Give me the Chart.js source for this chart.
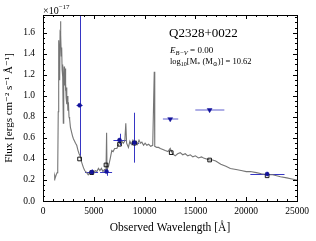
<!DOCTYPE html>
<html>
<head>
<meta charset="utf-8">
<script src="https://cdn.jsdelivr.net/npm/chart.js@4"></script>
<style>
  body { margin: 0; background: #fff; }
  canvas { display: block; }
</style>
</head>
<body>
<canvas id="grafico" width="316" height="241"></canvas>
<script>
// Espectro modelo (flujo en unidades de 1e-17)
const specWave = [1100, 1150, 1200, 1300, 1400, 1450, 1500, 1530, 1560, 1600, 1640, 1680, 1720, 1760, 1800, 1840, 1880, 1920, 1960, 2000,
  2040, 2080, 2120, 2170, 2210, 2240, 2280, 2320, 2360, 2400, 2450, 2500, 2560, 2620, 2700, 2800, 2900, 3000, 3100, 3200,
  3320, 3450, 3550, 3650, 3800, 3970, 4100, 4300, 4450, 4600, 4750, 4900, 5050, 5130, 5300, 5460, 5600, 5750, 5900, 6050,
  6200, 6260, 6300, 6450, 6610, 6770, 6900, 7050, 7270, 7450, 7600, 7760, 7900, 8050, 8150, 8230, 8410, 8550, 8700, 8850,
  9000, 9150, 9300, 9450, 9600, 9730, 9900, 10050, 10220, 10400, 10600, 10800, 10950, 11000, 11200, 11370, 11550, 11800, 12030, 12300,
  12520, 12750, 13010, 13250, 13510, 13750, 14000, 14250, 14500, 14750, 15000, 15300, 15600, 15800, 16100, 16400, 16700, 17000, 17500, 18000,
  18440, 19000, 19500, 20000, 20400, 21000, 21500, 22090, 22600, 23000, 23370, 24000, 24500, 25000];
const specFlux = [0.20, 0.24, 0.22, 0.25, 0.27, 0.30, 0.85, 1.50, 1.53, 1.40, 1.15, 1.60, 1.71, 1.58, 1.38, 1.46, 1.25, 1.30, 1.18, 0.74,
  1.20, 1.28, 1.10, 1.26, 1.05, 1.12, 0.98, 1.08, 0.92, 1.00, 0.86, 0.94, 0.80, 0.78, 0.70, 0.66, 0.62, 0.59, 0.57, 0.55,
  0.53, 0.48, 0.45, 0.43, 0.37, 0.32, 0.29, 0.27, 0.25, 0.27, 0.26, 0.28, 0.27, 0.29, 0.28, 0.31, 0.29, 0.31, 0.28, 0.30,
  0.29, 0.65, 0.30, 0.33, 0.40, 0.48, 0.47, 0.50, 0.50, 0.54, 0.56, 0.57, 0.55, 0.57, 0.74, 0.55, 0.51, 0.57, 0.54, 0.58,
  0.55, 0.57, 0.54, 0.58, 0.55, 0.56, 0.53, 0.55, 0.53, 0.54, 0.52, 0.53, 1.23, 0.52, 0.51, 0.51, 0.50, 0.49, 0.48, 0.47,
  0.50, 0.45, 0.43, 0.45, 0.46, 0.44, 0.45, 0.43, 0.44, 0.42, 0.43, 0.41, 0.42, 0.41, 0.40, 0.39, 0.39, 0.38, 0.35, 0.33,
  0.31, 0.30, 0.29, 0.28, 0.28, 0.27, 0.26, 0.25, 0.25, 0.24, 0.23, 0.22, 0.21, 0.20];

// Fotometría observada con errores
const photWave = [3600, 4800, 6250, 7530, 9000, 22060];
const photFlux = [0.91, 0.275, 0.28, 0.58, 0.555, 0.257];
const photXlo = [3300, 4140, 5620, 6930, 8580, 20410];
const photXhi = [3900, 5420, 6800, 8190, 9470, 23770];
const photYlo = [0.42, 0.25, 0.24, 0.53, 0.365, 0.24];
const photYhi = [2.50, 0.30, 0.32, 0.64, 0.84, 0.275];

// Límites superiores
const limWave = [12520, 16400];
const limFlux = [0.78, 0.867];
const limXlo = [11800, 14990];
const limXhi = [13310, 17850];

// Fotometría del modelo
const modelWave = [3600, 4800, 6200, 7530, 9000, 12620, 16400, 22060];
const modelFlux = [0.40, 0.27, 0.343, 0.54, 0.55, 0.46, 0.39, 0.24];

const xTicks = [0, 5000, 10000, 15000, 20000, 25000];
const yTicks = [0.0, 0.2, 0.4, 0.6, 0.8, 1.0, 1.2, 1.4, 1.6];

const serif = "'Liberation Serif', 'DejaVu Serif', serif";

function toPoints(xs, ys) {
  return xs.map((x, i) => ({ x: x, y: ys[i] }));
}

// Barras de error
const errorBars = {
  id: 'errorBars',
  beforeDatasetsDraw(chart) {
    const ctx = chart.ctx, a = chart.chartArea;
    const xs = chart.scales.x, ys = chart.scales.y;
    ctx.save();
    ctx.beginPath();
    ctx.rect(a.left, a.top, a.right - a.left, a.bottom - a.top);
    ctx.clip();
    ctx.lineWidth = 1;
    ctx.strokeStyle = '#3636c4';
    ctx.beginPath();
    photWave.forEach((w, i) => {
      const px = Math.round(xs.getPixelForValue(w)) + 0.5;
      const py = Math.round(ys.getPixelForValue(photFlux[i])) + 0.5;
      ctx.moveTo(xs.getPixelForValue(photXlo[i]), py);
      ctx.lineTo(xs.getPixelForValue(photXhi[i]), py);
      ctx.moveTo(px, ys.getPixelForValue(photYlo[i]));
      ctx.lineTo(px, ys.getPixelForValue(photYhi[i]));
    });
    ctx.stroke();
    ctx.strokeStyle = '#9494de';
    ctx.lineWidth = 1.5;
    ctx.beginPath();
    limWave.forEach((w, i) => {
      const py = ys.getPixelForValue(limFlux[i]);
      ctx.moveTo(xs.getPixelForValue(limXlo[i]), py);
      ctx.lineTo(xs.getPixelForValue(limXhi[i]), py);
    });
    ctx.stroke();
    ctx.restore();
  }
};

// Marco, ticks hacia adentro y textos
const frameAndText = {
  id: 'frameAndText',
  afterDraw(chart) {
    const ctx = chart.ctx, a = chart.chartArea;
    const xs = chart.scales.x, ys = chart.scales.y;
    ctx.save();
    ctx.strokeStyle = '#000';
    ctx.lineWidth = 1;
    ctx.strokeRect(Math.round(a.left) + 0.5, Math.round(a.top) + 0.5,
      Math.round(a.right - a.left), Math.round(a.bottom - a.top));

    ctx.beginPath();
    for (let v = 0; v <= 25000; v += 1000) {
      const p = Math.round(xs.getPixelForValue(v)) + 0.5;
      const len = v % 5000 === 0 ? 4 : 2;
      ctx.moveTo(p, a.bottom); ctx.lineTo(p, a.bottom - len);
      ctx.moveTo(p, a.top); ctx.lineTo(p, a.top + len);
    }
    for (let k = 0; k * 0.05 <= ys.max + 1e-9; k++) {
      const p = Math.round(ys.getPixelForValue(k * 0.05)) + 0.5;
      const len = k % 4 === 0 ? 4 : 2;
      ctx.moveTo(a.left, p); ctx.lineTo(a.left + len, p);
      ctx.moveTo(a.right, p); ctx.lineTo(a.right - len, p);
    }
    ctx.stroke();

    ctx.fillStyle = '#000';
    ctx.textBaseline = 'alphabetic';
    ctx.textAlign = 'left';
    // Multiplicador del eje y
    ctx.font = '10px ' + serif;
    ctx.fillText('×10', 43, 14);
    let w = ctx.measureText('×10').width;
    ctx.font = '7px ' + serif;
    ctx.fillText('−17', 43 + w, 9);

    // Nombre del objeto
    ctx.font = '13px ' + serif;
    ctx.fillText('Q2328+0022', 169, 37);

    // Extinción
    let x = 170;
    ctx.font = 'italic 9px ' + serif;
    ctx.fillText('E', x, 53);
    x += ctx.measureText('E').width;
    ctx.font = 'italic 6.5px ' + serif;
    ctx.fillText('B−V', x, 55);
    x += ctx.measureText('B−V').width;
    ctx.font = '9px ' + serif;
    ctx.fillText(' = 0.00', x, 53);

    // Masa estelar
    x = 170;
    const parts = [
      ['log', 8.5, 0], ['10', 6, 2], ['[M', 8.5, 0], ['*', 6, 2], [' (M', 8.5, 0], ['⊙', 6, 2], [')] = 10.62', 8.5, 0]
    ];
    parts.forEach(p => {
      ctx.font = p[1] + 'px ' + serif;
      ctx.fillText(p[0], x, 64 + p[2]);
      x += ctx.measureText(p[0]).width;
    });
    ctx.restore();
  }
};

const chart = new Chart(document.getElementById('grafico'), {
  type: 'scatter',
  data: {
    datasets: [
      {
        type: 'line',
        data: toPoints(specWave, specFlux),
        borderColor: '#757575',
        borderWidth: 1.1,
        pointRadius: 0,
        fill: false,
        tension: 0,
        order: 4
      },
      {
        data: toPoints(modelWave, modelFlux),
        pointStyle: 'rect',
        pointRadius: 2.6,
        borderColor: '#000',
        borderWidth: 0.9,
        backgroundColor: 'rgba(255,255,255,0)',
        order: 3
      },
      {
        data: toPoints(photWave, photFlux),
        pointStyle: 'circle',
        pointRadius: 2,
        borderColor: '#12129a',
        backgroundColor: '#12129a',
        borderWidth: 0.5,
        order: 1
      },
      {
        data: toPoints(limWave, limFlux),
        pointStyle: 'triangle',
        rotation: 180,
        pointRadius: 2.8,
        borderColor: '#12129a',
        backgroundColor: '#12129a',
        borderWidth: 0.5,
        order: 2
      }
    ]
  },
  options: {
    responsive: false,
    animation: false,
    devicePixelRatio: 1,
    layout: { padding: { top: 15, right: 19, left: 0, bottom: 0 } },
    plugins: { legend: { display: false }, tooltip: { enabled: false } },
    scales: {
      x: {
        type: 'linear',
        min: 0,
        max: 25000,
        afterBuildTicks: s => { s.ticks = xTicks.map(v => ({ value: v })); },
        afterFit: s => { s.height = 40; },
        grid: { display: false, drawTicks: false },
        border: { display: false },
        ticks: { padding: 5, color: '#000', font: { family: serif, size: 9.5 }, maxRotation: 0, callback: v => String(v) },
        title: { display: true, text: 'Observed Wavelength [Å]', color: '#000', font: { family: serif, size: 11.5 }, padding: { top: 0, bottom: 6 } }
      },
      y: {
        type: 'linear',
        min: 0,
        max: 1.77,
        afterBuildTicks: s => { s.ticks = yTicks.map(v => ({ value: v })); },
        afterFit: s => { s.width = 43; },
        grid: { display: false, drawTicks: false },
        border: { display: false },
        ticks: { padding: 8, color: '#000', font: { family: serif, size: 9.5 }, callback: v => v.toFixed(1) },
        title: { display: true, text: 'Flux [ergs cm⁻² s⁻¹ Å⁻¹]', color: '#000', font: { family: serif, size: 11 }, padding: { top: 3, bottom: 0 } }
      }
    }
  },
  plugins: [errorBars, frameAndText]
});
</script>
</body>
</html>
